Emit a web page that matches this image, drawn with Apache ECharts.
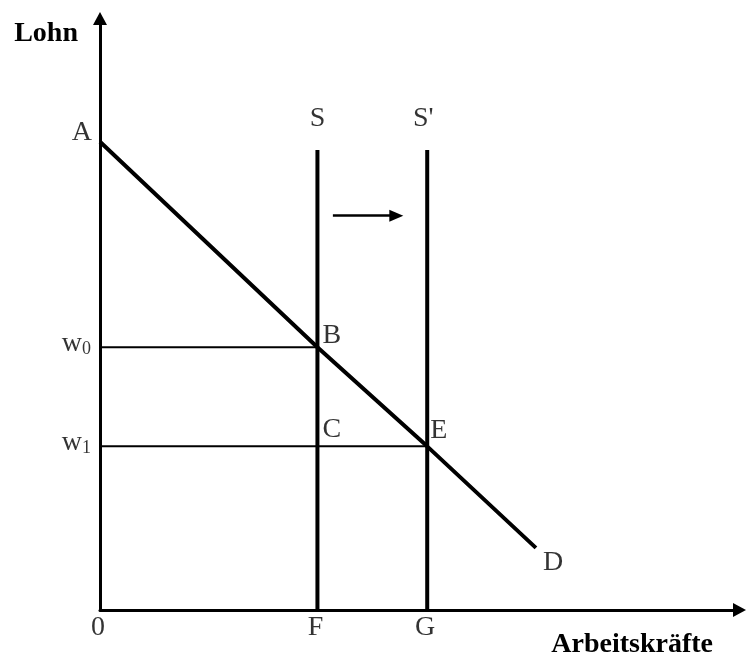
<!DOCTYPE html>
<html>
<head>
<meta charset="utf-8">
<script src="https://cdn.jsdelivr.net/npm/echarts@6/dist/echarts.min.js"></script>
<style>
  html, body { margin: 0; padding: 0; background: #fff; }
  #chart { width: 747px; height: 657px; }
</style>
</head>
<body>
<div id="chart"></div>
<script>
// Nachfragekurve D (Punkte A, B, E, D)
const demandNames = ['A', 'B', 'E', 'D']
const demandX = [0, 4.08, 6.14, 8.18]
const demandY = [9.5, 5.33, 3.32, 1.26]

// Angebotskurven S und S'
const supplyNames = ['S', "S'"]
const supplyX = [4.08, 6.14]
const supplyTop = 9.33

// Löhne w0, w1
const wageNames = ['w0', 'w1']
const wageValues = [5.33, 3.32]
const wageEndX = [4.08, 6.14]

// Beschriftung der x-Achse
const xMarkNames = ['0', 'F', 'G']
const xMarkValues = [0, 4.08, 6.14]

// Verschiebungspfeil S -> S'
const shiftFrom = 4.37
const shiftTo = 5.56
const shiftY = 8.0

const FONT = 'Liberation Serif'
const black = '#000'

const chart = echarts.init(document.getElementById('chart'))

function lbl(position, offset, distance) {
  return {
    show: true,
    position: position,
    offset: offset || [0, 0],
    distance: distance == null ? 5 : distance,
    fontFamily: FONT,
    fontSize: 28,
    color: black,
    formatter: '{b}'
  }
}

const wageRich = {
  w: { fontFamily: FONT, fontSize: 28, color: black },
  s: { fontFamily: FONT, fontSize: 18, color: black, padding: [12, 0, 0, 0] }
}

const labelPoints = []
// A, B, E, D
const demandLabelCfg = [
  lbl('left', [0, -9], 8),
  lbl('right', [0, -12], 5),
  lbl('right', [0, -16], 3),
  lbl('right', [0, 15], 7)
]
demandNames.forEach((n, i) => {
  labelPoints.push({ name: n, value: [demandX[i], demandY[i]], label: demandLabelCfg[i] })
})
// C
labelPoints.push({ name: 'C', value: [supplyX[0], wageValues[1]], label: lbl('right', [0, -17], 5) })
// S, S'
supplyNames.forEach((n, i) => {
  labelPoints.push({ name: n, value: [supplyX[i], supplyTop], label: lbl('top', [i ? -4 : 0, 0], 17) })
})
// 0, F, G
xMarkNames.forEach((n, i) => {
  labelPoints.push({ name: n, value: [xMarkValues[i], 0], label: lbl('bottom', [-2, 0], 4) })
})
// w0, w1
wageNames.forEach((n, i) => {
  const l = lbl('left', [0, -4], 9)
  l.formatter = '{w|w}{s|' + n.slice(1) + '}'
  l.rich = wageRich
  labelPoints.push({ name: n, value: [0, wageValues[i]], label: l })
})

const series = [
  {
    name: 'D',
    type: 'line',
    data: demandX.map((x, i) => [x, demandY[i]]),
    symbol: 'none',
    lineStyle: { color: black, width: 4 },
    z: 3
  }
]
supplyX.forEach((x, i) => {
  series.push({
    name: supplyNames[i],
    type: 'line',
    data: [[x, 0], [x, supplyTop]],
    symbol: 'none',
    lineStyle: { color: black, width: 4 },
    z: 3
  })
})
wageValues.forEach((w, i) => {
  series.push({
    name: wageNames[i],
    type: 'line',
    data: [[0, w], [wageEndX[i], w]],
    symbol: 'none',
    lineStyle: { color: black, width: 2 },
    z: 2
  })
})
series.push({
  type: 'line',
  data: [],
  markLine: {
    silent: true,
    symbol: ['none', 'triangle'],
    symbolSize: [12, 14],
    label: { show: false },
    lineStyle: { color: black, width: 2.5, type: 'solid' },
    data: [[{ coord: [shiftFrom, shiftY] }, { coord: [shiftTo, shiftY] }]]
  }
})
series.push({
  type: 'scatter',
  data: labelPoints,
  symbolSize: 0,
  silent: true,
  z: 5
})

const axisCommon = {
  type: 'value',
  min: 0,
  max: 12,
  axisLine: {
    show: true,
    symbol: ['none', 'triangle'],
    symbolSize: [14, 13],
    lineStyle: { color: black, width: 3 }
  },
  axisTick: { show: false },
  axisLabel: { show: false },
  splitLine: { show: false },
  nameMoveOverlap: false
}

chart.setOption({
  animation: false,
  backgroundColor: '#fff',
  grid: { left: 100, right: 7.5, top: 18.5, bottom: 47, outerBoundsMode: 'none', containLabel: false },
  xAxis: Object.assign({}, axisCommon, {
    name: 'Arbeitskräfte',
    nameLocation: 'end',
    nameGap: -26.5,
    nameTextStyle: {
      fontFamily: FONT, fontSize: 28, fontWeight: 'bold', color: black,
      align: 'right', verticalAlign: 'top', padding: [21, 0, 0, 0]
    }
  }),
  yAxis: Object.assign({}, axisCommon, {
    name: 'Lohn',
    nameLocation: 'end',
    nameGap: -15.5,
    nameTextStyle: {
      fontFamily: FONT, fontSize: 28, fontWeight: 'bold', color: black,
      align: 'right', verticalAlign: 'middle', padding: [0, 22, 0, 0]
    }
  }),
  series: series
})
</script>
</body>
</html>
